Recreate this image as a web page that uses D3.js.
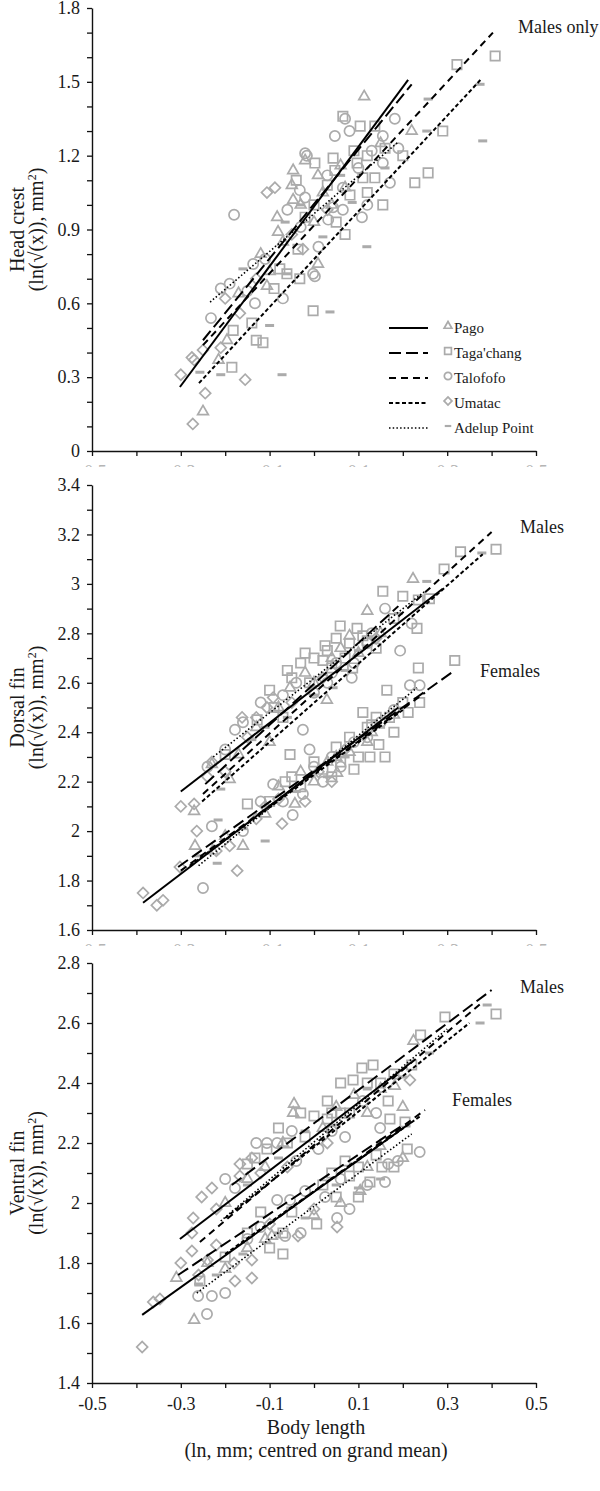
<!DOCTYPE html>
<html>
<head>
<meta charset="utf-8">
<script src="https://cdn.jsdelivr.net/npm/d3@7/dist/d3.min.js"></script>
<style>
  body { margin: 0; background: #fff; }
  svg { display: block; font-family: "Liberation Serif", "Times New Roman", serif; }
</style>
</head>
<body>
<div id="chart"></div>
<script>
// populations, in legend order
var populations = ["Pago", "Taga'chang", "Talofofo", "Umatac", "Adelup Point"];
var markerTypes = ["triangle", "square", "circle", "diamond", "bar"];
var dashTypes = [null, "12,5", "7,5", "4,2.5", "1.5,2.2"];

// x axis (body length)
var xTicks = [-0.5, -0.4, -0.3, -0.2, -0.1, 0, 0.1, 0.2, 0.3, 0.4, 0.5];
var xTickLabels = ["-0.5", "", "-0.3", "", "-0.1", "", "0.1", "", "0.3", "", "0.5"];

// y ticks per panel
var headTicks = [0, 0.1, 0.2, 0.3, 0.4, 0.5, 0.6, 0.7, 0.8, 0.9, 1.0, 1.1, 1.2, 1.3, 1.4, 1.5, 1.6, 1.7, 1.8];
var headTickLabels = ["0", "", "", "0.3", "", "", "0.6", "", "", "0.9", "", "", "1.2", "", "", "1.5", "", "", "1.8"];
var dorsalTicks = [1.6, 1.7, 1.8, 1.9, 2.0, 2.1, 2.2, 2.3, 2.4, 2.5, 2.6, 2.7, 2.8, 2.9, 3.0, 3.1, 3.2, 3.3, 3.4];
var dorsalTickLabels = ["1.6", "", "1.8", "", "2", "", "2.2", "", "2.4", "", "2.6", "", "2.8", "", "3", "", "3.2", "", "3.4"];
var ventralTicks = [1.4, 1.5, 1.6, 1.7, 1.8, 1.9, 2.0, 2.1, 2.2, 2.3, 2.4, 2.5, 2.6, 2.7, 2.8];
var ventralTickLabels = ["1.4", "", "1.6", "", "1.8", "", "2", "", "2.2", "", "2.4", "", "2.6", "", "2.8"];

// ---- Head crest, males only ----
var headPago = [[-0.25,0.16],[-0.196,0.45],[-0.215,0.37],[-0.106,0.67],[-0.083,0.95],[-0.081,0.89],[-0.047,1.14],[-0.047,1.02],[0.113,1.44],[0.22,1.30],[0.009,0.76],[0.009,1.12],[-0.05,1.08],[-0.03,1.0],[0.02,1.05],[-0.12,0.80],[-0.17,0.64],[0.06,1.16],[-0.07,0.85],[0.0,0.93],[0.04,1.0],[-0.02,1.18],[0.15,1.25],[0.07,1.07],[-0.1,0.73]];
var headTaga = [[-0.185,0.34],[-0.182,0.49],[-0.13,0.45],[-0.115,0.44],[-0.14,0.52],[-0.077,0.74],[-0.061,0.72],[-0.032,0.70],[-0.04,1.10],[-0.002,0.57],[0.408,1.605],[0.322,1.57],[0.065,1.36],[0.29,1.30],[0.257,1.13],[0.227,1.09],[0.155,1.00],[0.104,1.32],[0.137,1.32],[0.002,1.17],[0.043,1.19],[0.047,1.14],[0.097,1.17],[0.11,1.11],[0.137,1.11],[0.081,1.04],[-0.036,0.82],[0.03,1.08],[0.12,1.20],[0.0,1.0],[0.05,0.93],[0.09,1.22],[0.16,1.23],[-0.02,0.95],[0.12,1.05],[0.2,1.2],[0.07,0.88],[-0.09,0.66]];
var headTalofofo = [[-0.232,0.54],[-0.18,0.96],[-0.133,0.60],[-0.19,0.68],[-0.137,0.76],[-0.02,1.21],[-0.002,0.72],[-0.032,1.06],[0.07,1.35],[0.182,1.35],[0.108,0.95],[0.002,0.71],[0.047,1.28],[0.155,1.28],[0.19,1.23],[-0.016,1.20],[0.155,1.17],[0.171,1.09],[0.065,1.07],[0.043,0.99],[0.065,0.98],[0.032,0.94],[-0.02,1.03],[-0.03,0.91],[-0.21,0.66],[-0.11,0.78],[0.1,1.15],[0.13,1.22],[-0.06,0.98],[0.03,1.12],[0.08,1.3],[-0.07,0.62],[-0.15,0.65],[0.01,0.83],[0.12,1.0]];
var headUmatac = [[-0.30,0.31],[-0.273,0.11],[-0.245,0.235],[-0.27,0.37],[-0.275,0.38],[-0.25,0.41],[-0.155,0.29],[-0.106,1.05],[-0.088,1.07],[-0.025,0.82],[-0.167,0.56],[-0.2,0.62],[-0.05,0.88],[-0.13,0.7],[-0.21,0.42],[0.03,0.98]];
var headAdelup = [[-0.21,0.31],[-0.257,0.32],[-0.072,0.31],[-0.10,0.51],[0.374,1.49],[0.257,1.43],[0.254,1.30],[0.38,1.26],[0.119,0.83],[0.036,0.565],[0.02,0.87],[0.086,1.01],[-0.065,0.93],[-0.06,0.72],[-0.16,0.74],[0.06,1.12],[0.16,1.15],[-0.03,1.0]];
// regression lines [x1, y1, x2, y2], legend order
var headLines = [[-0.302,0.26,0.212,1.508],[-0.25,0.45,0.22,1.49],[-0.25,0.43,0.403,1.70],[-0.259,0.276,0.376,1.51],[-0.234,0.605,0.19,1.256]];

// ---- Dorsal fin ----
var dorsalMalePago = [[-0.27,2.08],[-0.10,2.36],[-0.19,2.21],[-0.054,2.58],[0.223,3.02],[0.12,2.89],[0.029,2.53],[-0.23,2.27],[-0.02,2.64],[0.06,2.74],[0.15,2.80],[-0.13,2.42],[0.10,2.72],[-0.08,2.5],[0.0,2.6],[0.08,2.79],[-0.17,2.31],[0.04,2.7]];
var dorsalMaleTaga = [[-0.128,2.45],[-0.054,2.31],[-0.05,2.62],[-0.03,2.68],[0.0,2.70],[0.03,2.73],[0.41,3.14],[0.33,3.13],[0.293,3.06],[0.26,2.94],[0.235,2.935],[0.155,2.97],[0.232,2.82],[0.087,2.66],[0.059,2.83],[0.097,2.82],[0.025,2.75],[0.05,2.78],[0.12,2.77],[0.07,2.70],[-0.09,2.50],[0.18,2.86],[-0.01,2.60],[-0.1,2.57],[-0.06,2.65],[0.02,2.69],[0.08,2.76],[0.11,2.79],[-0.02,2.72],[0.04,2.66],[0.14,2.74],[0.2,2.95],[-0.2,2.31],[-0.07,2.46]];
var dorsalMaleTalofofo = [[-0.178,2.41],[-0.025,2.41],[0.22,2.84],[0.194,2.73],[0.16,2.90],[0.085,2.62],[-0.2,2.33],[0.0,2.56],[0.05,2.68],[-0.07,2.55],[0.13,2.80],[0.04,2.64],[-0.12,2.52],[-0.04,2.6],[0.03,2.6],[0.09,2.68],[-0.16,2.44],[0.12,2.76],[-0.24,2.26]];
var dorsalMaleUmatac = [[-0.30,2.10],[-0.27,2.11],[-0.162,2.46],[-0.106,2.50],[-0.092,2.54],[-0.23,2.28],[-0.15,2.38],[0.14,2.78],[-0.2,2.24],[-0.24,2.22],[-0.13,2.46],[-0.05,2.52],[0.02,2.62]];
var dorsalMaleAdelup = [[-0.21,2.17],[-0.06,2.46],[0.378,3.125],[0.254,3.01],[0.043,2.58],[-0.14,2.37],[0.10,2.73],[0.19,2.88],[-0.11,2.42],[0.0,2.55],[0.07,2.65]];
var dorsalFemalePago = [[-0.268,1.94],[-0.228,1.92],[-0.16,1.94],[-0.11,2.07],[-0.043,2.11],[0.052,2.235],[0.0,2.20],[0.08,2.32],[-0.2,1.98],[0.12,2.36],[0.03,2.28],[-0.08,2.18],[0.05,2.3],[0.13,2.4],[0.18,2.47],[-0.03,2.24]];
var dorsalFemaleTaga = [[-0.15,2.11],[-0.065,2.20],[0.317,2.69],[0.235,2.66],[0.238,2.52],[0.212,2.48],[0.164,2.57],[0.16,2.30],[0.126,2.30],[0.10,2.30],[0.146,2.35],[0.12,2.42],[0.14,2.46],[0.11,2.48],[0.02,2.25],[0.06,2.28],[-0.03,2.18],[0.18,2.40],[0.05,2.34],[-0.05,2.22],[0.0,2.28],[0.04,2.22],[0.08,2.38],[0.13,2.43],[0.17,2.46],[0.2,2.52],[-0.1,2.12],[0.09,2.25]];
var dorsalFemaleTalofofo = [[-0.25,1.77],[-0.23,2.02],[-0.048,2.065],[-0.092,2.19],[-0.025,2.15],[0.238,2.59],[0.216,2.59],[0.0,2.26],[0.04,2.30],[0.09,2.36],[0.15,2.44],[-0.01,2.33],[-0.12,2.12],[-0.07,2.12],[0.02,2.2],[0.06,2.26],[0.12,2.38],[0.18,2.49],[-0.16,2.0]];
var dorsalFemaleUmatac = [[-0.385,1.75],[-0.354,1.70],[-0.34,1.72],[-0.173,1.84],[-0.302,1.855],[-0.264,2.00],[-0.19,1.94],[-0.072,2.03],[-0.13,2.05],[0.01,2.24],[0.07,2.33],[-0.08,2.13],[-0.11,2.1],[-0.02,2.12],[0.04,2.2],[-0.22,1.92]];
var dorsalFemaleAdelup = [[-0.218,1.87],[-0.216,2.045],[-0.11,1.96],[-0.04,2.16],[0.03,2.22],[0.11,2.38],[-0.16,2.01],[-0.26,1.9],[0.07,2.3],[0.15,2.42]];
var dorsalMaleLines = [[-0.30,2.16,0.29,2.98],[-0.245,2.19,0.19,2.91],[-0.25,2.15,0.40,3.21],[-0.252,2.12,0.38,3.12],[-0.227,2.30,0.25,2.97]];
var dorsalFemaleLines = [[-0.385,1.71,0.19,2.50],[-0.306,1.855,0.313,2.645],[-0.30,1.84,0.25,2.56],[-0.28,1.86,0.20,2.49],[-0.26,1.86,0.232,2.58]];

// ---- Ventral fin ----
var ventralMalePago = [[-0.045,2.33],[-0.047,2.30],[0.224,2.54],[0.182,2.39],[0.2,2.32],[-0.11,2.12],[0.02,2.25],[0.09,2.36],[-0.2,2.00],[0.12,2.30],[-0.15,2.08],[-0.07,2.2],[0.05,2.32],[0.15,2.38]];
var ventralMaleTaga = [[0.41,2.63],[0.295,2.62],[0.24,2.56],[0.133,2.46],[0.108,2.45],[0.06,2.40],[0.088,2.41],[0.167,2.34],[0.04,2.30],[0.06,2.30],[0.205,2.27],[0.171,2.28],[-0.133,2.15],[-0.106,2.18],[0.0,2.29],[0.03,2.28],[-0.02,2.22],[0.15,2.40],[-0.06,2.20],[-0.08,2.25],[-0.03,2.3],[0.03,2.34],[0.08,2.3],[0.12,2.4],[0.18,2.43],[-0.15,2.13],[0.22,2.46]];
var ventralMaleTalofofo = [[-0.106,2.20],[-0.083,2.20],[0.149,2.25],[-0.178,2.05],[0.01,2.18],[0.11,2.34],[-0.04,2.14],[0.07,2.22],[-0.13,2.2],[-0.05,2.24],[0.04,2.24],[0.14,2.3],[-0.2,2.08]];
var ventralMaleUmatac = [[-0.272,1.95],[-0.253,2.02],[-0.167,2.13],[0.216,2.41],[-0.167,2.09],[-0.22,1.98],[-0.12,2.10],[-0.23,2.05],[-0.14,2.15],[-0.06,2.12],[0.03,2.2]];
var ventralMaleAdelup = [[0.374,2.60],[0.39,2.66],[0.12,2.38],[-0.02,2.24],[0.26,2.50],[-0.15,2.06],[-0.08,2.15],[0.05,2.26],[0.2,2.42]];
var ventralFemalePago = [[-0.31,1.75],[-0.27,1.61],[-0.11,1.88],[-0.095,1.89],[0.149,2.19],[0.104,2.04],[-0.2,1.78],[0.0,1.96],[0.2,2.15],[-0.24,1.8],[-0.15,1.85],[0.06,2.0],[0.12,2.12]];
var ventralFemaleTaga = [[-0.257,1.74],[-0.07,1.90],[0.006,1.93],[-0.1,1.85],[-0.07,1.83],[0.153,2.12],[0.08,2.09],[0.10,2.12],[0.126,2.07],[0.04,2.10],[0.07,2.14],[-0.12,1.97],[0.18,2.12],[0.05,2.02],[-0.2,1.82],[-0.15,1.9],[-0.05,1.97],[0.02,2.06],[0.1,2.02],[0.14,2.16],[0.21,2.18]];
var ventralFemaleTalofofo = [[-0.241,1.63],[-0.261,1.69],[-0.23,1.69],[-0.065,1.89],[0.238,2.17],[0.189,2.14],[0.167,2.13],[0.052,1.95],[0.025,2.02],[-0.083,2.01],[-0.054,2.01],[0.08,1.98],[-0.15,1.88],[0.12,2.06],[-0.2,1.7],[-0.12,1.92],[-0.02,2.04],[0.06,2.08],[0.16,2.07],[-0.03,1.9]];
var ventralFemaleUmatac = [[-0.387,1.52],[-0.347,1.68],[-0.362,1.67],[-0.275,1.84],[-0.18,1.80],[-0.14,1.81],[-0.036,1.89],[-0.24,1.81],[0.052,1.92],[-0.178,1.74],[-0.14,1.75],[-0.275,1.90],[-0.3,1.8],[-0.22,1.86],[-0.1,1.93],[0.0,1.98],[-0.26,1.76]];
var ventralFemaleAdelup = [[-0.16,1.83],[-0.02,1.95],[0.1,2.05],[-0.22,1.76],[0.15,2.08],[-0.26,1.73],[-0.08,1.9],[0.05,2.06]];
var ventralMaleLines = [[-0.302,1.88,0.22,2.47],[-0.185,2.06,0.40,2.71],[-0.257,1.87,0.38,2.67],[-0.2,1.95,0.35,2.60],[-0.21,1.94,0.30,2.58]];
var ventralFemaleLines = [[-0.387,1.627,0.22,2.27],[-0.306,1.76,0.20,2.26],[-0.1,1.93,0.25,2.31],[-0.2,1.83,0.24,2.29],[-0.264,1.70,0.22,2.23]];

var width = 600, height = 1491;
var left = 92, right = 536;
var grey = "#ababab";

var panels = [
  {
    top: 8, bottom: 451, domain: [0, 1.8], ticks: headTicks, tickLabels: headTickLabels,
    title: "Head crest",
    points: [headPago, headTaga, headTalofofo, headUmatac, headAdelup],
    lines: [headLines],
    notes: [{ text: "Males only", x: 518, y: 33 }],
    legend: true, cutLabels: true
  },
  {
    top: 485, bottom: 930, domain: [1.6, 3.4], ticks: dorsalTicks, tickLabels: dorsalTickLabels,
    title: "Dorsal fin",
    points: [
      dorsalMalePago.concat(dorsalFemalePago),
      dorsalMaleTaga.concat(dorsalFemaleTaga),
      dorsalMaleTalofofo.concat(dorsalFemaleTalofofo),
      dorsalMaleUmatac.concat(dorsalFemaleUmatac),
      dorsalMaleAdelup.concat(dorsalFemaleAdelup)
    ],
    lines: [dorsalMaleLines, dorsalFemaleLines],
    notes: [{ text: "Males", x: 520, y: 533 }, { text: "Females", x: 480, y: 677 }],
    cutLabels: true
  },
  {
    top: 963, bottom: 1383, domain: [1.4, 2.8], ticks: ventralTicks, tickLabels: ventralTickLabels,
    title: "Ventral fin",
    points: [
      ventralMalePago.concat(ventralFemalePago),
      ventralMaleTaga.concat(ventralFemaleTaga),
      ventralMaleTalofofo.concat(ventralFemaleTalofofo),
      ventralMaleUmatac.concat(ventralFemaleUmatac),
      ventralMaleAdelup.concat(ventralFemaleAdelup)
    ],
    lines: [ventralMaleLines, ventralFemaleLines],
    notes: [{ text: "Males", x: 520, y: 993 }, { text: "Females", x: 452, y: 1106 }],
    cutLabels: false
  }
];

var svg = d3.select("#chart").append("svg")
  .attr("width", width)
  .attr("height", height);

var x = d3.scaleLinear().domain([-0.5, 0.5]).range([left, right]);

panels.forEach(function (p, i) {
  drawPanel(p, i);
});

// x axis title, bottom panel only
svg.append("text")
  .attr("x", 316).attr("y", 1434)
  .attr("text-anchor", "middle")
  .attr("font-size", 20)
  .attr("fill", "#1a1a1a")
  .text("Body length");
svg.append("text")
  .attr("x", 316).attr("y", 1457)
  .attr("text-anchor", "middle")
  .attr("font-size", 20)
  .attr("fill", "#1a1a1a")
  .text("(ln, mm; centred on grand mean)");

function drawMarker(g, type, cx, cy, s) {
  // s = 1 for plot, smaller for legend
  if (type === "bar") {
    g.append("rect")
      .attr("x", cx - 4.5 * s).attr("y", cy - 1.5 * s)
      .attr("width", 9 * s).attr("height", 3 * s)
      .attr("fill", grey);
    return;
  }
  var sym, size, rot = 0;
  if (type === "triangle") { sym = d3.symbolTriangle; size = 50; }
  if (type === "square") { sym = d3.symbolSquare; size = 88; }
  if (type === "circle") { sym = d3.symbolCircle; size = 82; }
  if (type === "diamond") { sym = d3.symbolSquare; size = 60; rot = 45; }
  g.append("path")
    .attr("d", d3.symbol().type(sym).size(size * s * s)())
    .attr("transform", "translate(" + cx + "," + cy + ") rotate(" + rot + ")")
    .attr("fill", "none")
    .attr("stroke", grey)
    .attr("stroke-width", 1.7);
}

function drawPanel(p, idx) {
  var y = d3.scaleLinear().domain(p.domain).range([p.bottom, p.top]);
  var g = svg.append("g").attr("class", "panel");

  // scatter points
  var pts = g.append("g").attr("class", "points");
  p.points.forEach(function (series, k) {
    series.forEach(function (d) {
      drawMarker(pts, markerTypes[k], x(d[0]), y(d[1]), 1);
    });
  });

  // regression lines
  var ln = g.append("g").attr("class", "lines");
  p.lines.forEach(function (set) {
    ln.selectAll(null)
      .data(set)
      .join("line")
      .attr("x1", (d) => x(d[0]))
      .attr("y1", (d) => y(d[1]))
      .attr("x2", (d) => x(d[2]))
      .attr("y2", (d) => y(d[3]))
      .attr("stroke", "#000")
      .attr("stroke-width", (d, k) => (k === 4 ? 1.6 : 2))
      .attr("stroke-dasharray", (d, k) => dashTypes[k]);
  });

  // y axis
  var yAxis = d3.axisLeft(y)
    .tickValues(p.ticks)
    .tickFormat((d, k) => p.tickLabels[k])
    .tickSize(5)
    .tickSizeOuter(0)
    .tickPadding(7);
  var ya = g.append("g")
    .attr("transform", "translate(" + left + ",0)")
    .call(yAxis);
  styleAxis(ya);

  // x axis
  var xAxis = d3.axisBottom(x)
    .tickValues(xTicks)
    .tickFormat((d, k) => xTickLabels[k])
    .tickSize(5)
    .tickSizeOuter(0)
    .tickPadding(9);
  var xa = g.append("g")
    .attr("transform", "translate(0," + p.bottom + ")")
    .call(xAxis);
  styleAxis(xa);

  if (p.cutLabels) {
    // the tick labels are cut off by the panel below, only their tops show
    var clipId = "cut" + idx;
    svg.append("clipPath").attr("id", clipId)
      .append("rect")
      .attr("x", 0).attr("y", -10)
      .attr("width", width).attr("height", 26);
    xa.attr("clip-path", "url(#" + clipId + ")");
    xa.selectAll("text").attr("fill", "#b5b5b5");
  }

  // y axis title, two lines
  var cy = (p.top + p.bottom) / 2;
  g.append("text")
    .attr("transform", "translate(24," + cy + ") rotate(-90)")
    .attr("text-anchor", "middle")
    .attr("font-size", 20)
    .attr("fill", "#1a1a1a")
    .text(p.title);
  var t2 = g.append("text")
    .attr("transform", "translate(43," + cy + ") rotate(-90)")
    .attr("text-anchor", "middle")
    .attr("font-size", 20)
    .attr("fill", "#1a1a1a");
  t2.append("tspan").text("(ln(\u221A(x)), mm");
  t2.append("tspan").attr("dy", -7).attr("font-size", 12).text("2");
  t2.append("tspan").attr("dy", 7).text(")");

  // group notes
  p.notes.forEach(function (n) {
    g.append("text")
      .attr("x", n.x).attr("y", n.y)
      .attr("font-size", 18)
      .attr("fill", "#1a1a1a")
      .text(n.text);
  });

  if (p.legend) drawLegend(g);
}

function styleAxis(a) {
  a.select(".domain").attr("stroke", "#111").attr("stroke-width", 1.4);
  a.selectAll(".tick line").attr("stroke", "#111").attr("stroke-width", 1.3);
  a.selectAll(".tick text")
    .attr("font-size", 18)
    .attr("font-family", "Liberation Serif, Times New Roman, serif")
    .attr("fill", "#1a1a1a");
}

function drawLegend(g) {
  var lg = g.append("g").attr("class", "legend");
  populations.forEach(function (name, k) {
    var ry = 328 + k * 25;
    lg.append("line")
      .attr("x1", 389).attr("x2", 428)
      .attr("y1", ry).attr("y2", ry)
      .attr("stroke", "#000")
      .attr("stroke-width", k === 4 ? 1.6 : 2)
      .attr("stroke-dasharray", dashTypes[k]);
    drawMarker(lg, markerTypes[k], 448, ry - 2, 0.72);
    lg.append("text")
      .attr("x", 454).attr("y", ry)
      .attr("dy", "0.35em")
      .attr("font-size", 15)
      .attr("fill", "#1a1a1a")
      .text(name);
  });
}
</script>
</body>
</html>
